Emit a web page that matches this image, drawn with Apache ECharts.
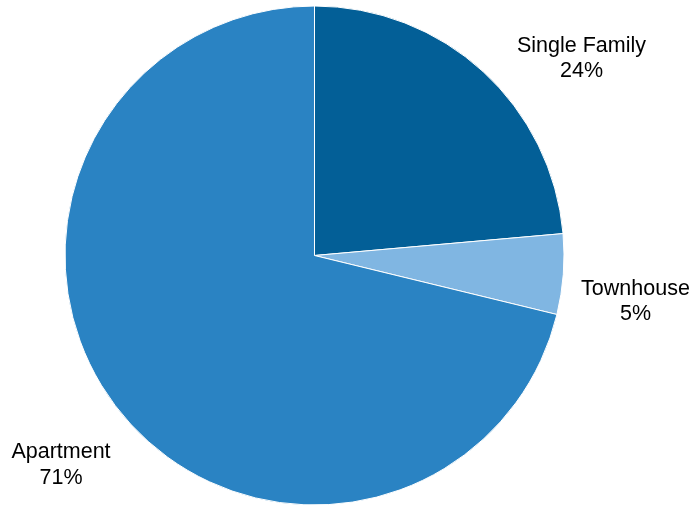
<!DOCTYPE html>
<html>
<head>
<meta charset="utf-8">
<style>html,body{margin:0;padding:0;background:#fff;}#chart{width:694px;height:506px;}</style>
<script src="https://cdn.jsdelivr.net/npm/echarts@6/dist/echarts.min.js"></script>
</head>
<body>
<div id="chart"></div>
<script>
// Data
var categories = ['Single Family', 'Townhouse', 'Apartment'];
var values = [23.6, 5.2, 71.2];

// Styling (not data)
var colors = ['#035f97', '#80b6e2', '#2a83c3'];
var labelAnchors = [[581.5, 58.5], [635.5, 301.5], [61, 465]];

var chart = echarts.init(document.getElementById('chart'), null, {renderer: 'canvas'});
chart.setOption({
  animation: false,
  backgroundColor: '#ffffff',
  series: [{
    type: 'pie',
    center: [314.5, 255.5],
    radius: 249.5,
    startAngle: 90,
    clockwise: true,
    percentPrecision: 0,
    avoidLabelOverlap: false,
    itemStyle: { borderColor: '#ffffff', borderWidth: 1 },
    label: {
      show: true,
      position: 'outside',
      formatter: '{b}\n{d}%',
      fontFamily: 'Liberation Sans, Arial, sans-serif',
      fontSize: 21.5,
      lineHeight: 25.5,
      color: '#000000',
      align: 'center'
    },
    labelLine: { show: false },
    labelLayout: function (p) {
      var a = labelAnchors[p.dataIndex];
      return { x: a[0], y: a[1], align: 'center', verticalAlign: 'middle' };
    },
    data: categories.map(function (c, i) {
      return { name: c, value: values[i], itemStyle: { color: colors[i] } };
    })
  }]
});
</script>
</body>
</html>
